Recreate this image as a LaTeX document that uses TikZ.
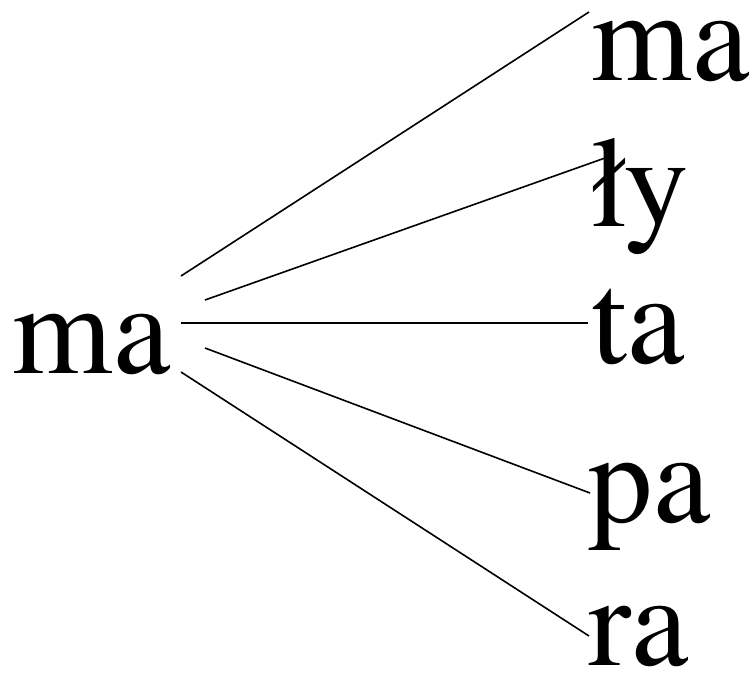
\documentclass[tikz,border=0pt]{standalone}
\usepackage{fontspec}
\newfontfamily\sylfont{texgyretermes-regular.otf}
\tikzset{syl/.style={anchor=base west,inner sep=0pt,font=\sylfont\fontsize{129}{129}\selectfont}}

\begin{document}
\begin{tikzpicture}[x=1pt,y=-1pt,line width=1.6pt]
    \useasboundingbox (0,0) rectangle (753,673);

    \node[syl] (stem) at (12,373) {ma};
    \node[syl] (ma) at (591,80) {ma};
    \node[syl] (ly) at (591,226) {ły};
    \node[syl] (ta) at (591,363) {ta};
    \node[syl] (pa) at (588,522) {pa};
    \node[syl] (ra) at (588,665) {ra};

    \coordinate (s1) at (181,276);
    \coordinate (s2) at (205,300);
    \coordinate (s3) at (181,323);
    \coordinate (s4) at (205,348);
    \coordinate (s5) at (181,372);
    \coordinate (e1) at (589,12);
    \coordinate (e2) at (605,158);
    \coordinate (e3) at (588,323);
    \coordinate (e4) at (590,493);
    \coordinate (e5) at (589,636);

    \foreach \i in {1,...,5}
      \draw (s\i) -- (e\i);

\end{tikzpicture}
\end{document}
